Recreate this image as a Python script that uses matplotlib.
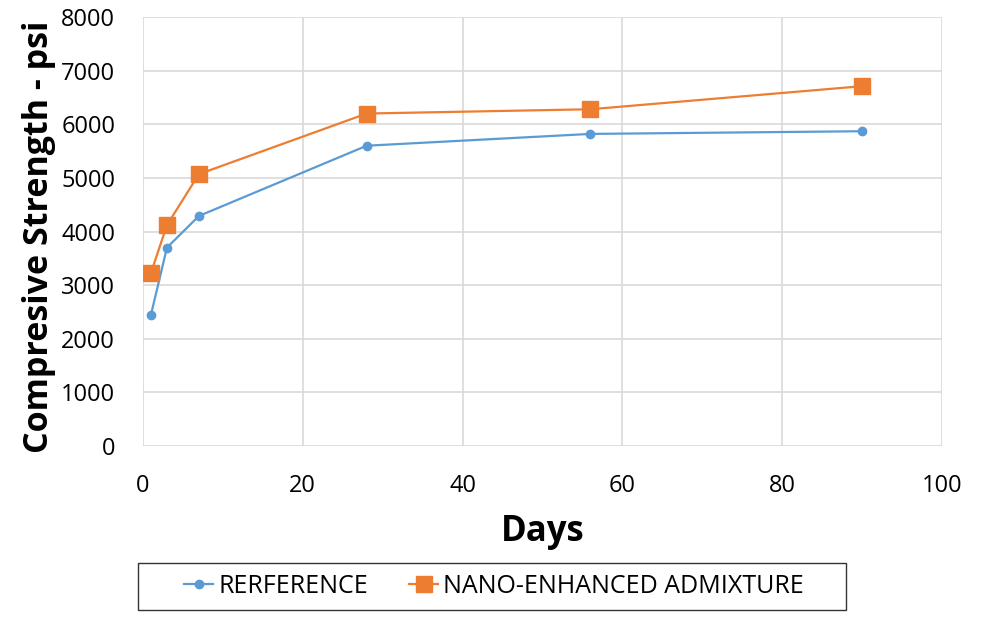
import matplotlib
matplotlib.use("Agg")
import matplotlib.pyplot as plt
from matplotlib.patches import Rectangle

days = [1, 3, 7, 28, 56, 90]
reference = [2450, 3700, 4290, 5600, 5820, 5870]
nano = [3230, 4120, 5070, 6200, 6280, 6710]
series_labels = ["RERFERENCE", "NANO-ENHANCED ADMIXTURE"]
x_ticks = [0, 20, 40, 60, 80, 100]
y_ticks = [0, 1000, 2000, 3000, 4000, 5000, 6000, 7000, 8000]

plt.rcParams['font.family'] = ['Open Sans', 'DejaVu Sans']

fig = plt.figure(figsize=(9.93, 6.21), dpi=100)
ax = fig.add_axes([0.144, 0.2818, 0.8046, 0.6908])

ax.plot(days, reference, color="#5b9bd5", lw=1.6, marker="o", ms=6, label=series_labels[0], zorder=3)
ax.plot(days, nano, color="#ed7d31", lw=1.6, marker="s", ms=11.5, label=series_labels[1], zorder=3)

ax.set_xlim(0, 100)
ax.set_ylim(0, 8000)
ax.set_xticks(x_ticks)
ax.set_yticks(y_ticks)
ax.tick_params(axis='y', length=0, labelsize=17, pad=20)
ax.tick_params(axis='x', length=0, labelsize=17, pad=20)
for s in ax.spines.values():
    s.set_visible(False)
ax.grid(True, color="#d9d9d9", lw=1.2)
ax.set_axisbelow(True)

ax.set_xlabel("Days", fontsize=25, fontweight="bold", labelpad=12)
ax.set_ylabel("Compresive Strength - psi", fontsize=24.5, fontweight="bold", labelpad=4, y=0.488)

box = (0.139, 0.0177, 0.713, 0.0757)
fig.patches.append(Rectangle((box[0], box[1]), box[2], box[3], transform=fig.transFigure,
                             fill=False, edgecolor="#333333", lw=1.0))
leg = fig.legend(loc="center", bbox_to_anchor=(box[0] + box[2] / 2 + 0.002, box[1] + box[3] / 2),
                 ncol=2, fontsize=18, frameon=False, handlelength=1.15,
                 handletextpad=0.2, columnspacing=1.65, borderpad=0.0)

fig.savefig("out.png", dpi=100)
